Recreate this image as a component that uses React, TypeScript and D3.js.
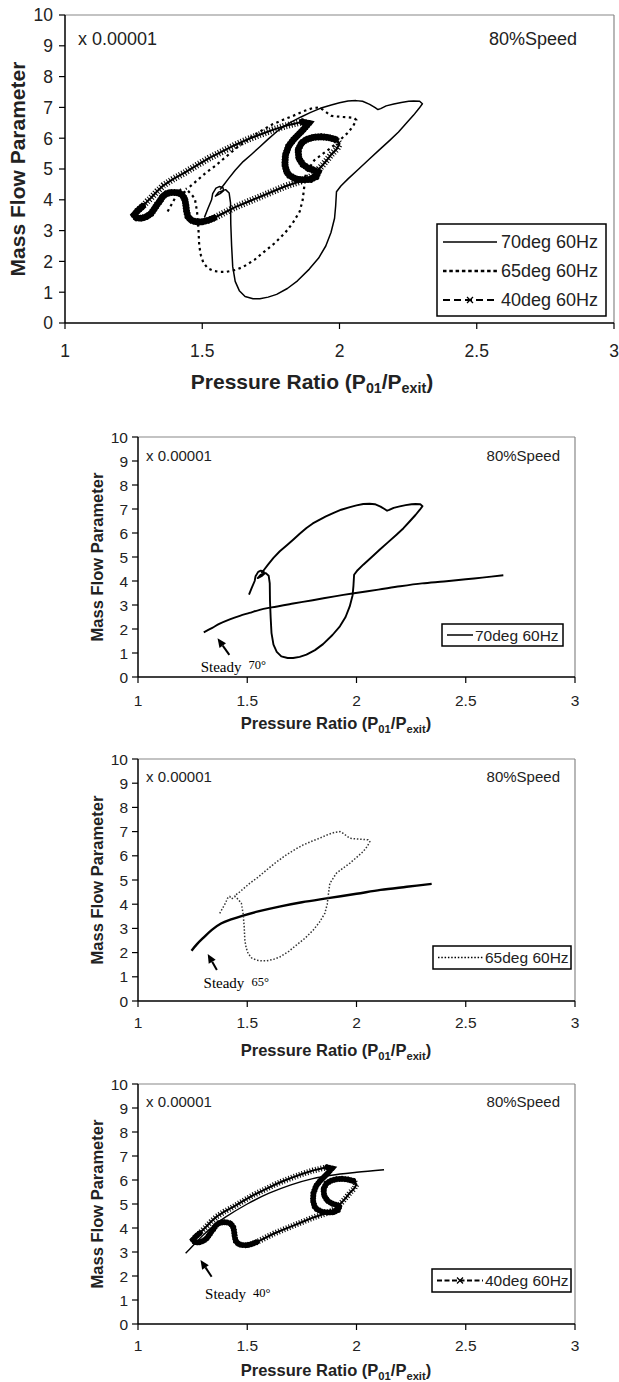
import React from 'react';
import * as d3 from 'd3';

type Pt = [number, number];

// axis ticks
const xTicks = [1, 1.5, 2, 2.5, 3];
const yTicks = [0, 1, 2, 3, 4, 5, 6, 7, 8, 9, 10];

// 70deg 60Hz loop (pressure ratio, mass flow x1e-5)
const loop70: Pt[] = [
  [1.508, 3.43], [1.52, 3.7], [1.534, 4.0], [1.538, 4.2], [1.55, 4.38], [1.562, 4.43], [1.575, 4.4],
  [1.578, 4.3], [1.565, 4.2], [1.548, 4.12], [1.56, 4.25], [1.585, 4.33], [1.598, 4.22], [1.603, 3.9],
  [1.604, 3.2], [1.607, 2.5], [1.611, 1.83], [1.62, 1.35], [1.635, 1.05], [1.656, 0.86], [1.685, 0.79],
  [1.71, 0.79], [1.74, 0.84], [1.771, 0.93], [1.81, 1.12], [1.847, 1.37], [1.89, 1.75], [1.924, 2.11],
  [1.95, 2.5], [1.969, 2.94], [1.982, 3.4], [1.986, 3.8], [1.989, 4.26], [2.005, 4.45], [2.031, 4.68],
  [2.07, 5.0], [2.107, 5.31], [2.145, 5.62], [2.183, 5.93], [2.215, 6.2], [2.244, 6.49], [2.27, 6.75],
  [2.29, 6.97], [2.302, 7.12], [2.292, 7.2], [2.27, 7.21], [2.252, 7.2], [2.225, 7.16], [2.198, 7.11],
  [2.17, 7.05], [2.15, 6.96], [2.14, 6.93], [2.13, 6.99], [2.11, 7.1], [2.084, 7.2], [2.06, 7.22],
  [2.031, 7.21], [2.0, 7.15], [1.97, 7.08], [1.93, 6.97], [1.893, 6.83], [1.86, 6.69], [1.832, 6.56],
  [1.8, 6.4], [1.771, 6.21], [1.74, 5.97], [1.71, 5.72], [1.68, 5.48], [1.649, 5.24], [1.62, 4.96],
  [1.595, 4.68], [1.578, 4.48], [1.565, 4.33],
];

// 65deg 60Hz loop
const loop65: Pt[] = [
  [1.374, 3.62], [1.385, 3.8], [1.4, 4.04], [1.41, 4.25], [1.42, 4.32], [1.428, 4.22], [1.435, 4.25],
  [1.445, 4.32], [1.458, 4.2], [1.473, 4.04], [1.481, 3.62], [1.486, 3.07], [1.489, 2.51], [1.495, 2.2],
  [1.504, 1.96], [1.52, 1.78], [1.542, 1.69], [1.565, 1.66], [1.588, 1.66], [1.62, 1.72], [1.649, 1.82],
  [1.69, 2.05], [1.725, 2.31], [1.765, 2.6], [1.802, 2.93], [1.83, 3.25], [1.855, 3.62], [1.866, 4.0],
  [1.87, 4.31], [1.878, 4.86], [1.895, 5.1], [1.908, 5.28], [1.94, 5.5], [1.969, 5.69], [2.0, 5.93],
  [2.031, 6.18], [2.05, 6.4], [2.061, 6.59], [2.053, 6.66], [2.03, 6.68], [2.008, 6.69], [1.985, 6.71],
  [1.969, 6.73], [1.955, 6.82], [1.939, 6.93], [1.924, 7.0], [1.9, 6.97], [1.87, 6.88], [1.832, 6.73],
  [1.795, 6.6], [1.756, 6.45], [1.72, 6.27], [1.679, 6.04], [1.63, 5.72], [1.588, 5.41], [1.55, 5.12],
  [1.511, 4.86], [1.48, 4.62], [1.458, 4.45], [1.44, 4.35],
];

// 40deg 60Hz loop
const loop40: Pt[] = [
  [1.26, 3.41], [1.252, 3.51], [1.265, 3.65], [1.283, 3.79], [1.3, 3.95], [1.313, 4.06], [1.335, 4.27],
  [1.359, 4.47], [1.395, 4.68], [1.436, 4.88], [1.48, 5.12], [1.528, 5.37], [1.575, 5.58], [1.62, 5.78],
  [1.665, 5.96], [1.711, 6.12], [1.757, 6.27], [1.803, 6.4], [1.835, 6.47], [1.864, 6.53], [1.887, 6.48],
  [1.875, 6.35], [1.864, 6.24], [1.833, 5.96], [1.815, 5.75], [1.803, 5.45], [1.801, 5.14], [1.808, 4.9],
  [1.818, 4.79], [1.84, 4.68], [1.864, 4.65], [1.895, 4.66], [1.915, 4.75], [1.922, 4.9], [1.905, 4.97],
  [1.887, 5.02], [1.866, 5.15], [1.852, 5.35], [1.849, 5.62], [1.862, 5.85], [1.88, 5.96], [1.905, 6.03],
  [1.933, 6.05], [1.96, 6.02], [1.986, 5.96], [2.0, 5.82], [1.99, 5.65], [1.971, 5.48], [1.955, 5.3],
  [1.94, 5.14], [1.925, 5.0], [1.91, 4.86], [1.893, 4.74], [1.864, 4.62], [1.833, 4.53], [1.803, 4.44],
  [1.757, 4.27], [1.711, 4.1], [1.665, 3.93], [1.62, 3.76], [1.58, 3.58], [1.543, 3.41], [1.52, 3.33],
  [1.497, 3.28], [1.475, 3.29], [1.459, 3.34], [1.448, 3.45], [1.443, 3.62], [1.44, 3.85], [1.436, 4.03],
  [1.425, 4.18], [1.405, 4.24], [1.385, 4.24], [1.37, 4.2], [1.355, 4.1], [1.345, 3.95], [1.336, 3.85],
  [1.325, 3.7], [1.313, 3.55], [1.298, 3.46], [1.283, 3.41], [1.27, 3.4],
];
// index ranges of loop40 where the samples pile up (drawn as solid black)
const dense40: [number, number][] = [[0, 3], [19, 44], [61, 81]];

// steady characteristics
const steady70: Pt[] = [
  [1.301, 1.86], [1.34, 2.05], [1.374, 2.22], [1.42, 2.4], [1.466, 2.55], [1.51, 2.67], [1.557, 2.8],
  [1.611, 2.9], [1.71, 3.06], [1.8, 3.2], [1.9, 3.36], [1.989, 3.49], [2.1, 3.64], [2.2, 3.78],
  [2.3, 3.9], [2.4, 3.98], [2.5, 4.07], [2.575, 4.14], [2.672, 4.24],
];
const steady65: Pt[] = [
  [1.245, 2.08], [1.27, 2.35], [1.3, 2.62], [1.338, 2.94], [1.38, 3.2], [1.43, 3.38], [1.477, 3.52],
  [1.55, 3.7], [1.647, 3.9], [1.75, 4.08], [1.87, 4.25], [2.0, 4.43], [2.11, 4.59], [2.23, 4.72], [2.344, 4.84],
];
const steady40: Pt[] = [
  [1.218, 2.95], [1.25, 3.25], [1.3, 3.72], [1.35, 4.12], [1.4, 4.45], [1.5, 5.0], [1.6, 5.45],
  [1.7, 5.8], [1.8, 6.06], [1.886, 6.2], [2.0, 6.32], [2.126, 6.43],
];

const seriesNames = ['70deg 60Hz', '65deg 60Hz', '40deg 60Hz'];
const steadyNames = ['70°', '65°', '40°'];
// annotation anchors [tail, tip, text] in data units
const arrow70: Pt[] = [[1.418, 0.92], [1.364, 1.61], [1.287, 0.22]];
const arrow65: Pt[] = [[1.361, 1.28], [1.319, 1.94], [1.3, 0.53]];
const arrow40: Pt[] = [[1.337, 1.97], [1.286, 2.67], [1.307, 1.03]];

const SANS = '"Liberation Sans", Arial, Helvetica, sans-serif';
const SERIF = '"Liberation Serif", "Times New Roman", serif';

type Legend = { x0: number; y0: number; x1: number; y1: number; lx0: number; lx1: number; tx: number; rows: number[]; font: number };
type Cfg = {
  left: number; right: number; top: number; bottom: number;
  tickFont: number; yGap: number; xLabelBase: number;
  titleFont: number; xTitleX: number; xTitleBase: number; yTitleX: number;
  noteFont: number; noteLeft: number; noteRight: number; noteBase: number;
  series: number[]; legend: Legend; big: boolean;
  steady?: Pt[]; steadyWidth?: number; arrow?: Pt[]; deg?: string;
};

function Cross({ cx, cy, r }: { cx: number; cy: number; r: number }) {
  return (
    <path d={`M${cx - r},${cy - r}L${cx + r},${cy + r}M${cx - r},${cy + r}L${cx + r},${cy - r}`} stroke="#000" strokeWidth={1.3} />
  );
}

function Panel({ c }: { c: Cfg }) {
  const x = d3.scaleLinear().domain([1, 3]).range([c.left, c.right]);
  const y = d3.scaleLinear().domain([0, 10]).range([c.bottom, c.top]);
  const line = d3.line<Pt>().x(d => x(d[0])).y(d => y(d[1]));
  const smooth = d3.line<Pt>().x(d => x(d[0])).y(d => y(d[1])).curve(d3.curveCatmullRom);
  const big = c.big;

  const draw70 = () => (
    <path d={line(loop70) || ''} fill="none" stroke="#000" strokeWidth={big ? 1.5 : 1.9} strokeLinejoin="round" />
  );
  const draw65 = () => (
    <path d={line(loop65) || ''} fill="none" stroke={big ? '#000' : '#333'} strokeWidth={big ? 2.2 : 1.5}
      strokeDasharray={big ? '2.5 3.5' : '1.5 1.8'} />
  );
  const draw40 = () => (
    <g>
      <path d={line(loop40) || ''} fill="none" stroke="#000" strokeWidth={big ? 7 : 6} strokeDasharray="1 1.8" />
      <path d={line(loop40) || ''} fill="none" stroke="#000" strokeWidth={2} strokeLinejoin="round" />
      {dense40.map(([a, b], i) => (
        <path key={i} d={line(loop40.slice(a, b + 1)) || ''} fill="none" stroke="#000" strokeWidth={big ? 6.5 : 5.5}
          strokeLinejoin="round" strokeLinecap="round" />
      ))}
    </g>
  );
  const drawers = [draw70, draw65, draw40];

  const legendSample = (s: number, yy: number) => {
    const L = c.legend;
    if (s === 0) return <line x1={L.lx0} x2={L.lx1} y1={yy} y2={yy} stroke="#000" strokeWidth={1.5} />;
    if (s === 1)
      return <line x1={L.lx0} x2={L.lx1} y1={yy} y2={yy} stroke="#000" strokeWidth={big ? 2.5 : 1.5}
        strokeDasharray={big ? '3.5 2.8' : '1.5 1.8'} />;
    const mid = (L.lx0 + L.lx1) / 2;
    return (
      <g>
        <line x1={L.lx0} x2={L.lx1} y1={yy} y2={yy} stroke="#000" strokeWidth={big ? 1.8 : 2.2} strokeDasharray={big ? '7 4' : '5 2.5'} />
        <Cross cx={mid} cy={yy} r={3} />
      </g>
    );
  };

  let arrowEl = null;
  if (c.arrow && c.deg) {
    const [tail, tip, txt] = c.arrow;
    const tx = x(tail[0]), ty = y(tail[1]), hx = x(tip[0]), hy = y(tip[1]);
    const ang = Math.atan2(hy - ty, hx - tx);
    const hl = 9, hw = 4;
    const bx = hx - hl * Math.cos(ang), by = hy - hl * Math.sin(ang);
    const p1 = [bx + hw * Math.sin(ang), by - hw * Math.cos(ang)];
    const p2 = [bx - hw * Math.sin(ang), by + hw * Math.cos(ang)];
    arrowEl = (
      <g>
        <line x1={tx} y1={ty} x2={bx} y2={by} stroke="#000" strokeWidth={2} />
        <polygon points={`${hx},${hy} ${p1[0]},${p1[1]} ${p2[0]},${p2[1]}`} fill="#000" />
        <text x={x(txt[0])} y={y(txt[1])} fontFamily={SERIF} fontSize={15}>
          Steady
          <tspan dx={7} dy={-2.5} fontSize={12.5}>{c.deg}</tspan>
        </text>
      </g>
    );
  }

  const L = c.legend;
  return (
    <g>
      {/* frame */}
      <line x1={c.left} x2={c.right} y1={c.top} y2={c.top} stroke="#888" strokeWidth={1.2} />
      <line x1={c.right} x2={c.right} y1={c.top} y2={c.bottom} stroke="#888" strokeWidth={1.2} />
      <line x1={c.left} x2={c.left} y1={c.top} y2={c.bottom} stroke="#000" strokeWidth={1.5} />
      <line x1={c.left} x2={c.right} y1={c.bottom} y2={c.bottom} stroke="#000" strokeWidth={1.5} />

      {yTicks.map(t => (
        <g key={'y' + t}>
          <line x1={c.left - 6} x2={c.left} y1={y(t)} y2={y(t)} stroke="#000" strokeWidth={1.2} />
          <text x={c.left - c.yGap} y={y(t)} dy="0.36em" textAnchor="end" fontFamily={SANS} fontSize={c.tickFont} fill="#222">{t}</text>
        </g>
      ))}
      {xTicks.map(t => (
        <g key={'x' + t}>
          <line x1={x(t)} x2={x(t)} y1={c.bottom} y2={c.bottom + 6} stroke="#000" strokeWidth={1.2} />
          <text x={x(t)} y={c.xLabelBase} textAnchor="middle" fontFamily={SANS} fontSize={c.tickFont} fill="#222">{t}</text>
        </g>
      ))}

      <text x={c.xTitleX} y={c.xTitleBase} textAnchor="middle" fontFamily={SANS} fontWeight="bold" fontSize={c.titleFont} fill="#222">
        Pressure Ratio (P<tspan dy={4} fontSize={c.titleFont * 0.68}>01</tspan>
        <tspan dy={-4}>/P</tspan><tspan dy={4} fontSize={c.titleFont * 0.68}>exit</tspan><tspan dy={-4}>)</tspan>
      </text>
      <text transform={`translate(${c.yTitleX},${(c.top + c.bottom) / 2}) rotate(-90)`} textAnchor="middle" fontFamily={SANS}
        fontWeight="bold" fontSize={c.titleFont} fill="#222">Mass Flow Parameter</text>

      <text x={c.noteLeft} y={c.noteBase} fontFamily={SANS} fontSize={c.noteFont} fill="#222">x 0.00001</text>
      <text x={c.noteRight} y={c.noteBase} textAnchor="end" fontFamily={SANS} fontSize={c.noteFont} fill="#222">80%Speed</text>

      {c.steady && <path d={smooth(c.steady) || ''} fill="none" stroke="#000" strokeWidth={c.steadyWidth || 1.8} />}
      {c.series.map(s => <g key={'s' + s}>{drawers[s]()}</g>)}
      {arrowEl}

      <rect x={L.x0} y={L.y0} width={L.x1 - L.x0} height={L.y1 - L.y0} fill="#fff" stroke="#000" strokeWidth={1.5} />
      {c.series.map((s, i) => (
        <g key={'l' + s}>
          {legendSample(s, L.rows[i])}
          <text x={L.tx} y={L.rows[i]} dy="0.36em" fontFamily={SANS} fontSize={L.font} fill="#222">{seriesNames[s]}</text>
        </g>
      ))}
    </g>
  );
}

const panels: Cfg[] = [
  {
    left: 65, right: 614, top: 15, bottom: 323, tickFont: 17.5, yGap: 12, xLabelBase: 357,
    titleFont: 21, xTitleX: 312, xTitleBase: 389, yTitleX: 25,
    noteFont: 18, noteLeft: 78, noteRight: 577, noteBase: 45,
    series: [0, 1, 2], big: true,
    legend: { x0: 437, y0: 224, x1: 606, y1: 316, lx0: 443, lx1: 497, tx: 501, rows: [242, 271, 300], font: 18 },
  },
  {
    left: 138, right: 575, top: 437, bottom: 677, tickFont: 15.5, yGap: 10, xLabelBase: 706,
    titleFont: 16.5, xTitleX: 336, xTitleBase: 729, yTitleX: 103,
    noteFont: 15, noteLeft: 146, noteRight: 560, noteBase: 461,
    series: [0], big: false, steady: steady70, steadyWidth: 1.9, arrow: arrow70, deg: steadyNames[0],
    legend: { x0: 442, y0: 624, x1: 563, y1: 646, lx0: 447, lx1: 473, tx: 475, rows: [635], font: 15.5 },
  },
  {
    left: 138, right: 575, top: 759, bottom: 1001, tickFont: 15.5, yGap: 10, xLabelBase: 1028,
    titleFont: 16.5, xTitleX: 336, xTitleBase: 1056, yTitleX: 103,
    noteFont: 15, noteLeft: 146, noteRight: 560, noteBase: 782,
    series: [1], big: false, steady: steady65, steadyWidth: 2.4, arrow: arrow65, deg: steadyNames[1],
    legend: { x0: 433, y0: 946, x1: 571, y1: 969, lx0: 438, lx1: 483, tx: 485, rows: [957.5], font: 15.5 },
  },
  {
    left: 138, right: 575, top: 1084, bottom: 1324, tickFont: 15.5, yGap: 10, xLabelBase: 1351,
    titleFont: 16.5, xTitleX: 336, xTitleBase: 1376, yTitleX: 103,
    noteFont: 15, noteLeft: 146, noteRight: 560, noteBase: 1107,
    series: [2], big: false, steady: steady40, steadyWidth: 1.4, arrow: arrow40, deg: steadyNames[2],
    legend: { x0: 432, y0: 1269, x1: 571, y1: 1292, lx0: 437, lx1: 483, tx: 485, rows: [1280.5], font: 15.5 },
  },
];

export default function App() {
  return (
    <svg width={619} height={1382} style={{ position: 'absolute', left: 0, top: 0, background: '#fff' }}>
      <rect width={619} height={1382} fill="#fff" />
      {panels.map((p, i) => <Panel key={i} c={p} />)}
    </svg>
  );
}
